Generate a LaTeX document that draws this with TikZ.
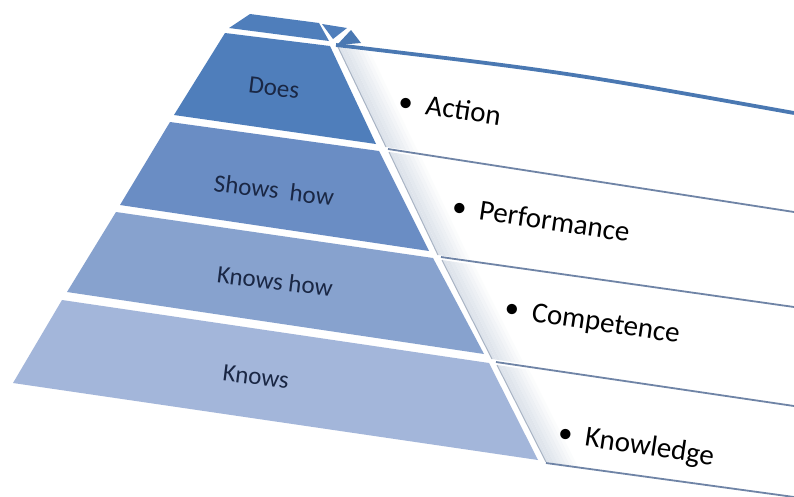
\documentclass[tikz,border=0pt]{standalone}
\usepackage{fontspec}
\setmainfont{Carlito}
\usetikzlibrary{calc}
\definecolor{tierDoes}{HTML}{4F7EBB}
\definecolor{tierShows}{HTML}{6A8DC4}
\definecolor{tierKnowsHow}{HTML}{87A2CE}
\definecolor{tierKnows}{HTML}{A3B6DA}
\definecolor{labelink}{HTML}{1A2744}
\definecolor{rulecol}{HTML}{6F84A6}
\definecolor{edgecol}{HTML}{A9B4C4}
\definecolor{bandgray}{HTML}{DDE3EB}
\definecolor{topblue}{HTML}{4A78B2}
\tikzset{
  tierlabel/.style={text=labelink, font=\fontsize{25}{30}\selectfont, rotate=-7, inner sep=0pt},
  itemlabel/.style={text=black, font=\fontsize{29}{34}\selectfont, rotate=-8.5, inner sep=0pt},
  rowrule/.style={draw=rulecol, line width=1.8pt},
  rowedge/.style={draw=edgecol, line width=1pt},
  toprule/.style={draw=topblue, line width=3.8pt},
}
\begin{document}
\begin{tikzpicture}[x=1pt,y=-1pt]
\useasboundingbox (0,0) rectangle (794,496);
\fill[white] (0,0) rectangle (794,496);

% left edges of the four text rows
\coordinate (r1t) at (338,47);  \coordinate (r1b) at (386,147);
\coordinate (r2t) at (389,152); \coordinate (r2b) at (438,255);
\coordinate (r3t) at (442,260); \coordinate (r3b) at (492,359);
\coordinate (r4t) at (497,365); \coordinate (r4b) at (546,462);

% soft grey bevel just right of the pyramid
\foreach \r in {1,2,3,4}{
  \foreach \i/\op in {0/1,1/0.9,2/0.78,3/0.64,4/0.5,5/0.36,6/0.22,7/0.1}{
    \fill[bandgray, opacity=\op]
      ($(r\r t)+(\i*4,\i*0.6)$) -- ($(r\r t)+(\i*4+4,\i*0.6+0.6)$) --
      ($(r\r b)+(\i*4+4,\i*0.6+0.6)$) -- ($(r\r b)+(\i*4,\i*0.6)$) -- cycle;
  }
  \draw[rowedge] (r\r t) -- (r\r b);
}

% row rules
\coordinate (l0a) at (336,45);
\coordinate (l0b) at (794,113);
\coordinate (l1a) at (388,149); \coordinate (l1b) at (794,212);
\coordinate (l2a) at (441,257); \coordinate (l2b) at (794,307);
\coordinate (l3a) at (496,362); \coordinate (l3b) at (794,406);
\coordinate (l4a) at (546,463); \coordinate (l4b) at (794,497);
\draw[rowrule] (l1a) -- (l1b);
\draw[rowrule] (l2a) -- (l2b);
\draw[rowrule] (l3a) -- (l3b);
\draw[rowrule] (l4a) -- (l4b);
\draw[toprule] (l0a) .. controls (565,72) .. (l0b);

% pieces at the apex
\fill[tierDoes] (229,28) -- (250,14) -- (319,23) -- (329,41) -- cycle;
\fill[tierDoes] (322,24) -- (347,28) -- (333,39) -- cycle;
\fill[topblue] (351,30) -- (361,43) -- (337,45) -- cycle;

% pyramid tiers
\fill[tierDoes]     (225,33) -- (330,46) -- (376,144) -- (174,115) -- cycle;
\fill[tierShows]    (170,122) -- (379,151) -- (429,251) -- (120,205) -- cycle;
\fill[tierKnowsHow] (116,212) -- (433,258) -- (484,354) -- (67,292) -- cycle;
\fill[tierKnows]    (62,300) -- (489,363) -- (538,460) -- (13,383) -- cycle;

% tier labels
\node[tierlabel] (does)     at (274,88)  {Does};
\node[tierlabel] (shows)    at (274,190) {Shows\ \ how};
\node[tierlabel] (knowshow) at (275,281) {Knows how};
\node[tierlabel] (knows)    at (256,377) {Knows};

% row items
\node[itemlabel] (action)      at (450,108) {•\hspace{0.45em}Action};
\node[itemlabel] (performance) at (541,219) {•\hspace{0.45em}Performance};
\node[itemlabel] (competence)  at (592,323) {•\hspace{0.45em}Competence};
\node[itemlabel] (knowledge)   at (636,446) {•\hspace{0.45em}Knowledge};
\end{tikzpicture}
\end{document}
